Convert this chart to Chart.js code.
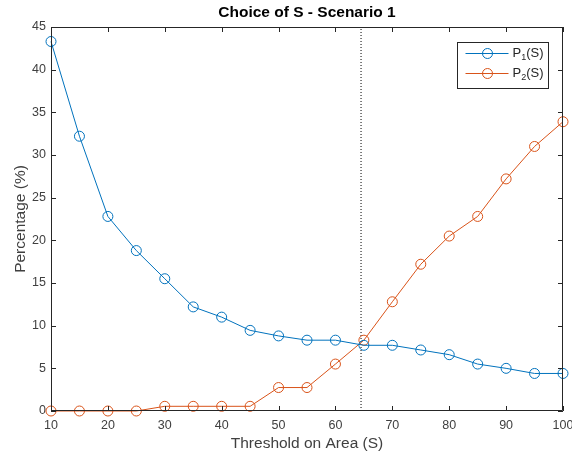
<!DOCTYPE html>
<html>
<head>
<meta charset="utf-8">
<script src="https://cdn.jsdelivr.net/npm/chart.js@4"></script>
<style>
  html, body { margin: 0; padding: 0; background: #fff; }
  #wrap { width: 572px; height: 459px; }
</style>
</head>
<body>
<div id="wrap"><canvas id="choiceChart" width="572" height="459"></canvas></div>
<script>
// Threshold values S and the two percentages
const thresholds = [10, 15, 20, 25, 30, 35, 40, 45, 50, 55, 60, 65, 70, 75, 80, 85, 90, 95, 100];
const p1Values = [43.3, 32.2, 22.8, 18.8, 15.5, 12.2, 11.0, 9.45, 8.8, 8.3, 8.3, 7.7, 7.7, 7.15, 6.6, 5.5, 5.0, 4.4, 4.4];
const p2Values = [0, 0, 0, 0, 0.55, 0.55, 0.55, 0.55, 2.75, 2.75, 5.5, 8.3, 12.8, 17.2, 20.5, 22.8, 27.2, 31.0, 33.9];
const seriesLabels = ['P_1(S)', 'P_2(S)'];
const chosenS = 64.5;
const xTicks = [10, 20, 30, 40, 50, 60, 70, 80, 90, 100];
const yTicks = [0, 5, 10, 15, 20, 25, 30, 35, 40, 45];

const FONT = "'Liberation Sans', Arial, Helvetica, sans-serif";
const BLUE = '#0072BD';
const ORANGE = '#D95319';
const AXIS = '#262626';

function toPoints(ys) {
    return thresholds.map((x, i) => ({ x: x, y: ys[i] }));
}

// box around the axes with inward ticks on all four sides
const boxTicks = {
    id: 'boxTicks',
    afterDatasetsDraw(chart) {
        const { ctx, chartArea: a, scales } = chart;
        ctx.save();
        ctx.strokeStyle = AXIS;
        ctx.lineWidth = 1;
        ctx.beginPath();
        ctx.rect(a.left + 0.5, a.top + 0.5, a.right - a.left - 1, a.bottom - a.top - 1);
        ctx.stroke();
        ctx.beginPath();
        const len = 5;
        xTicks.forEach(v => {
            const px = Math.round(scales.x.getPixelForValue(v)) + 0.5;
            ctx.moveTo(px, a.bottom); ctx.lineTo(px, a.bottom - len);
            ctx.moveTo(px, a.top); ctx.lineTo(px, a.top + len);
        });
        yTicks.forEach(v => {
            const py = Math.round(scales.y.getPixelForValue(v)) + 0.5;
            ctx.moveTo(a.left, py); ctx.lineTo(a.left + len, py);
            ctx.moveTo(a.right, py); ctx.lineTo(a.right - len, py);
        });
        ctx.stroke();
        ctx.restore();
    }
};

// legend box with line+marker samples and subscripted labels
const boxLegend = {
    id: 'boxLegend',
    afterDraw(chart) {
        const { ctx, chartArea: a } = chart;
        const sets = chart.data.datasets.filter(d => d.inLegend);
        const w = 91, rowH = 20;
        const h = sets.length * rowH + 6;
        const left = a.right - w - 15 + 0.5;
        const top = a.top + 15 + 0.5;
        ctx.save();
        ctx.fillStyle = '#fff';
        ctx.fillRect(left, top, w, h);
        ctx.strokeStyle = AXIS;
        ctx.lineWidth = 1;
        ctx.strokeRect(left, top, w, h);
        sets.forEach((d, i) => {
            const y = top + 11 + i * rowH;
            ctx.strokeStyle = d.borderColor;
            ctx.lineWidth = 1;
            ctx.beginPath();
            ctx.moveTo(left + 8, y); ctx.lineTo(left + 51, y);
            ctx.stroke();
            ctx.beginPath();
            ctx.arc(left + 30, y, 5, 0, Math.PI * 2);
            ctx.stroke();
            // label of the form Base_Sub(rest)
            const m = d.label.match(/^(.*?)_(.)(.*)$/);
            let tx = left + 55;
            ctx.fillStyle = AXIS;
            ctx.textBaseline = 'middle';
            ctx.font = '13px ' + FONT;
            ctx.fillText(m[1], tx, y);
            tx += ctx.measureText(m[1]).width;
            ctx.font = '9px ' + FONT;
            ctx.fillText(m[2], tx, y + 4);
            tx += ctx.measureText(m[2]).width;
            ctx.font = '13px ' + FONT;
            ctx.fillText(m[3], tx, y);
        });
        ctx.restore();
    }
};

const ctx = document.getElementById('choiceChart').getContext('2d');
const choiceChart = new Chart(ctx, {
    type: 'line',
    data: {
        datasets: [
            {
                label: seriesLabels[0],
                inLegend: true,
                data: toPoints(p1Values),
                borderColor: BLUE,
                borderWidth: 1,
                pointStyle: 'circle',
                pointRadius: 5,
                pointBorderWidth: 1,
                pointBorderColor: BLUE,
                pointBackgroundColor: 'rgba(0,0,0,0)',
                tension: 0,
                clip: false
            },
            {
                label: seriesLabels[1],
                inLegend: true,
                data: toPoints(p2Values),
                borderColor: ORANGE,
                borderWidth: 1,
                pointStyle: 'circle',
                pointRadius: 5,
                pointBorderWidth: 1,
                pointBorderColor: ORANGE,
                pointBackgroundColor: 'rgba(0,0,0,0)',
                tension: 0,
                clip: false
            },
            {
                label: 'S',
                inLegend: false,
                data: [{ x: chosenS, y: 0 }, { x: chosenS, y: 45 }],
                borderColor: '#000',
                borderWidth: 1,
                borderDash: [1, 2],
                pointRadius: 0
            }
        ]
    },
    options: {
        responsive: false,
        animation: false,
        events: [],
        layout: { padding: { top: 0, right: 9, bottom: 0, left: 0 } },
        plugins: {
            legend: { display: false },
            tooltip: { enabled: false },
            title: {
                display: true,
                text: 'Choice of S - Scenario 1',
                fullSize: false,
                color: '#000',
                font: { family: FONT, size: 15.5, weight: 'bold' },
                padding: { top: 3, bottom: 5.4 }
            }
        },
        scales: {
            x: {
                type: 'linear',
                min: 10,
                max: 100,
                grid: { display: false, drawTicks: false },
                border: { display: false },
                afterBuildTicks: s => { s.ticks = xTicks.map(v => ({ value: v })); },
                afterFit: s => { s.height = 48; s.paddingLeft = 0; s.paddingRight = 0; },
                ticks: {
                    color: '#404040',
                    padding: 7,
                    maxRotation: 0,
                    font: { family: FONT, size: 12.5 }
                },
                title: {
                    display: true,
                    text: 'Threshold on Area (S)',
                    color: '#404040',
                    font: { family: FONT, size: 15.5 },
                    padding: { top: 0, bottom: 6 }
                }
            },
            y: {
                min: 0,
                max: 45,
                grid: { display: false, drawTicks: false },
                border: { display: false },
                afterBuildTicks: s => { s.ticks = yTicks.map(v => ({ value: v })); },
                afterFit: s => { s.width = 51; s.paddingTop = 0; s.paddingBottom = 0; },
                ticks: {
                    color: '#404040',
                    padding: 5,
                    font: { family: FONT, size: 12.5 }
                },
                title: {
                    display: true,
                    text: 'Percentage (%)',
                    color: '#404040',
                    font: { family: FONT, size: 15.5 },
                    padding: { top: 11, bottom: 0 }
                }
            }
        }
    },
    plugins: [boxTicks, boxLegend]
});
</script>
</body>
</html>
